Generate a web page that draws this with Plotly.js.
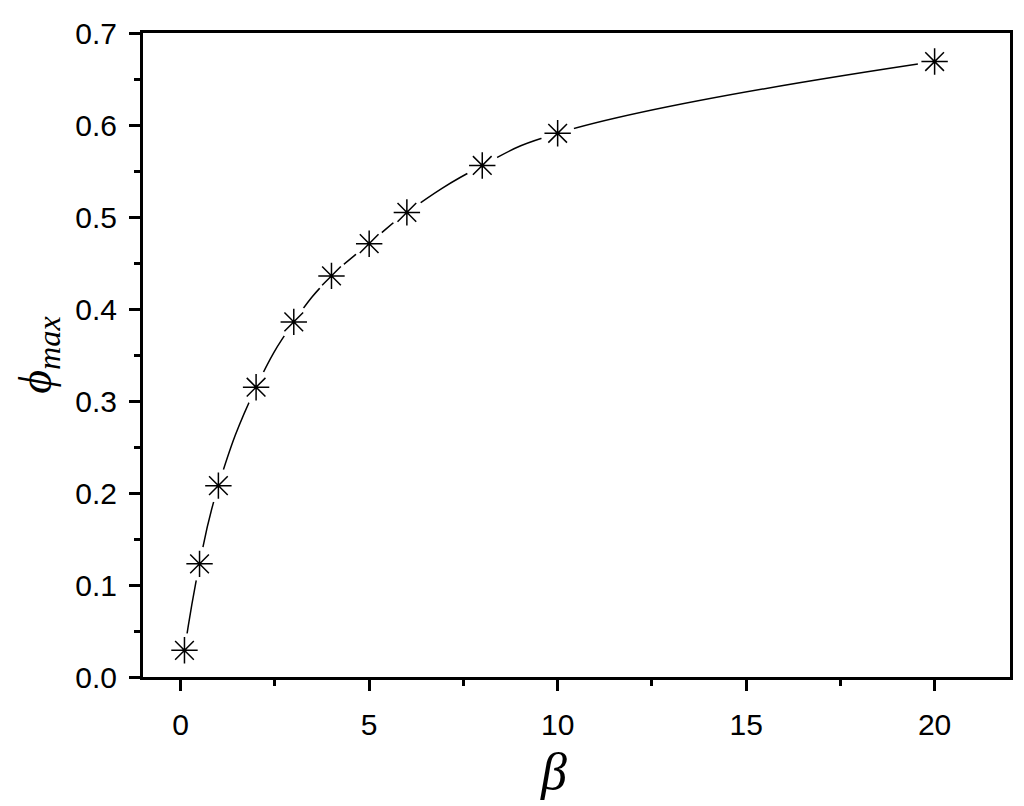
<!DOCTYPE html>
<html>
<head>
<meta charset="utf-8">
<script src="https://cdn.plot.ly/plotly-3.0.1.min.js"></script>
<style>html,body{margin:0;padding:0;background:#fff;}#chart{width:1024px;height:806px;}</style>
</head>
<body>
<div id="chart"></div>
<script>
const beta = [0.1, 0.5, 1, 2, 3, 4, 5, 6, 8, 10, 20];
const phiMax = [0.029, 0.123, 0.208, 0.315, 0.386, 0.436, 0.471, 0.505, 0.556, 0.591, 0.669];
const xTickVals = [0, 5, 10, 15, 20];
const yTickVals = [0.0, 0.1, 0.2, 0.3, 0.4, 0.5, 0.6, 0.7];
const yTickText = ["0.0", "0.1", "0.2", "0.3", "0.4", "0.5", "0.6", "0.7"];

const traces = [
  {
    x: beta, y: phiMax, type: 'scatter', mode: 'lines',
    line: {color: '#000', width: 1.5, shape: 'spline', smoothing: 1.3},
    hoverinfo: 'skip', showlegend: false
  },
  {
    x: beta, y: phiMax, type: 'scatter', mode: 'markers',
    marker: {symbol: 'circle', size: 34, color: '#fff', line: {width: 0}},
    hoverinfo: 'skip', showlegend: false
  },
  {
    x: beta, y: phiMax, type: 'scatter', mode: 'markers',
    marker: {symbol: 'asterisk-open', size: 22, color: '#000', line: {color: '#000', width: 1.5}},
    showlegend: false
  }
];

const axisCommon = {
  showgrid: false, zeroline: false,
  showline: true, linecolor: '#000', linewidth: 3, mirror: true,
  ticks: 'outside', ticklen: 11, tickwidth: 3, tickcolor: '#000',
  tickfont: {family: 'Liberation Sans, Arial, sans-serif', size: 30, color: '#000'}
};

const layout = {
  width: 1024, height: 806,
  margin: {l: 143, r: 14, t: 33, b: 129},
  paper_bgcolor: '#fff', plot_bgcolor: '#fff',
  xaxis: Object.assign({}, axisCommon, {
    range: [-1, 22], tickmode: 'array', tickvals: xTickVals,
    minor: {ticks: 'outside', ticklen: 6, tickwidth: 3, tickcolor: '#000', dtick: 2.5, tick0: 0},
    ticklabelstandoff: 8
  }),
  yaxis: Object.assign({}, axisCommon, {
    range: [0, 0.7], tickmode: 'array', tickvals: yTickVals, ticktext: yTickText,
    minor: {ticks: 'outside', ticklen: 6, tickwidth: 3, tickcolor: '#000', dtick: 0.05, tick0: 0},
    ticklabelstandoff: 6,
    title: {text: '<i>ϕ</i><sub><i>max</i></sub>', font: {family: 'Liberation Serif, Times New Roman, serif', size: 46, color: '#000'}, standoff: 10}
  }),
  annotations: [{
    text: '<i>β</i>', xref: 'paper', yref: 'paper', x: 0.473, y: -0.099,
    xanchor: 'center', yanchor: 'top', showarrow: false,
    font: {family: 'Liberation Serif, Times New Roman, serif', size: 52, color: '#000'}
  }]
};

Plotly.newPlot('chart', traces, layout, {displayModeBar: false, staticPlot: true});
</script>
</body>
</html>
